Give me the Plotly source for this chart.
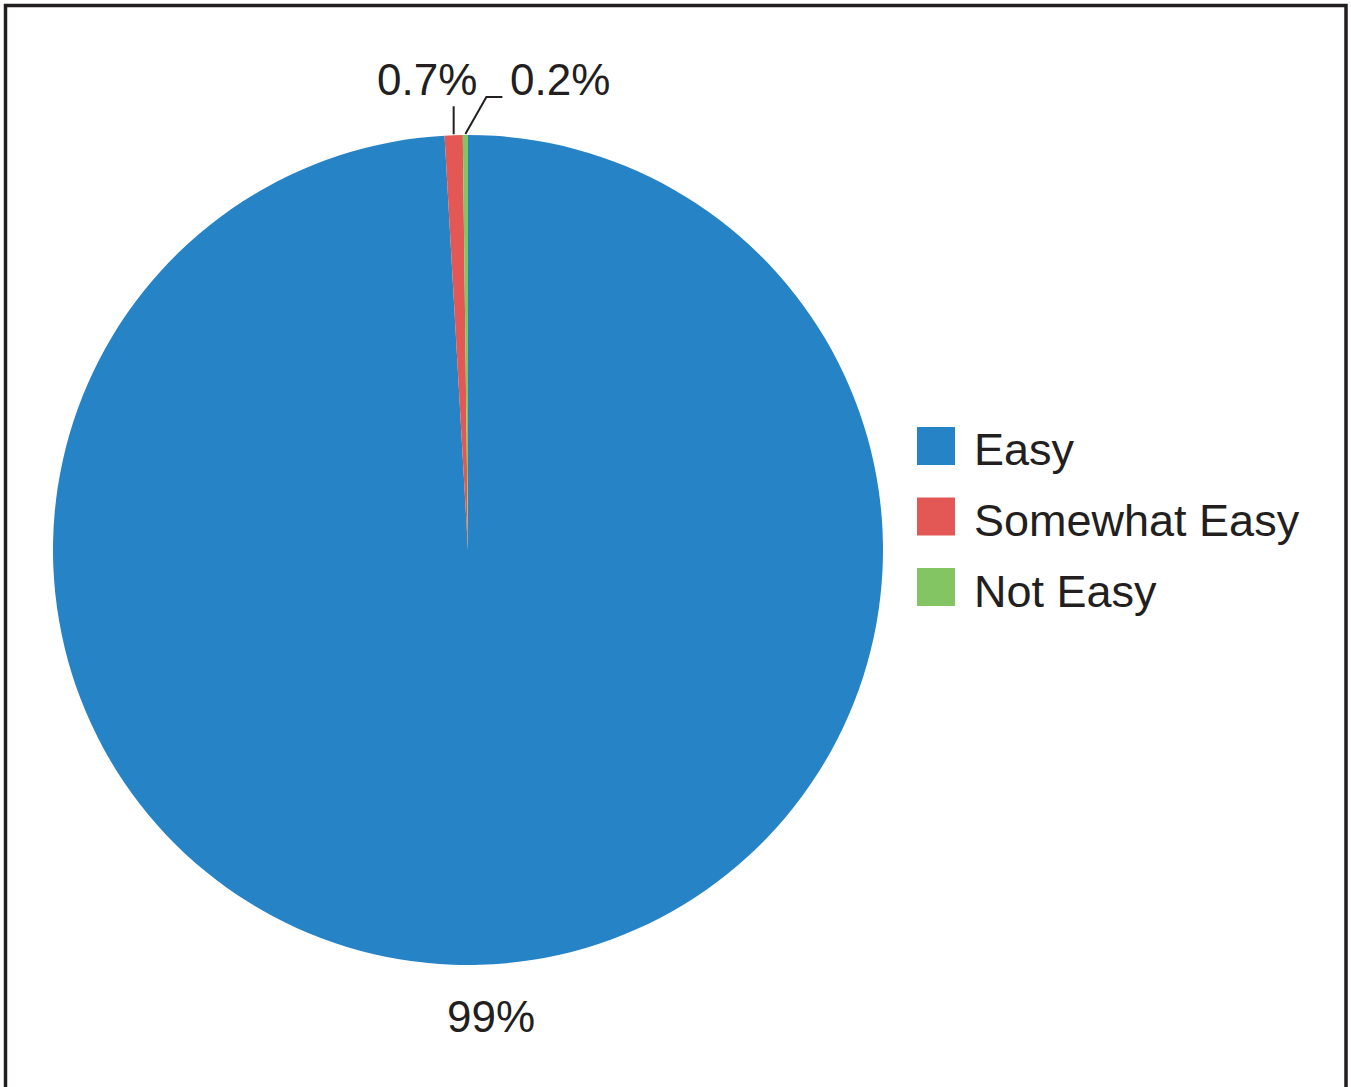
import math
import plotly.graph_objects as go

# Survey responses
categories = ["Easy", "Somewhat Easy", "Not Easy"]
values = [99.1, 0.7, 0.2]
value_labels = ["99%", "0.7%", "0.2%"]
colors = ["#2683C6", "#E35855", "#83C563"]

W, H = 1351, 1087
CX, CY, R = 468, 550, 415          # pie centre and radius in pixels
FONT = "Liberation Sans, Arial, Helvetica, sans-serif"
INK = "#231F20"


def px(x):
    return x / W


def py(y):
    return 1 - y / H


fig = go.Figure(
    go.Pie(
        labels=categories,
        values=values,
        marker=dict(colors=colors, line=dict(width=0)),
        sort=False,
        direction="clockwise",
        rotation=0,
        textinfo="none",
        hoverinfo="label+percent",
        showlegend=False,
        domain=dict(x=[px(CX - R), px(CX + R)], y=[py(CY + R), py(CY - R)]),
    )
)

# slice mid-angles (clockwise from 12 o'clock)
total = sum(values)
mids = []
acc = 0.0
for v in values:
    mids.append((acc + v / 2) / total * 2 * math.pi)
    acc += v


def edge(a, r=R):
    return CX + r * math.sin(a), CY - r * math.cos(a)


shapes = []
annotations = []
lab_font = dict(family=FONT, size=44, color=INK)
leg_font = dict(family=FONT, size=45, color=INK)

# large slice label, below the pie
bx, by = edge(mids[0], R + 52)
annotations.append(dict(x=px(bx + 10), y=py(by), xref="paper", yref="paper",
                        text=value_labels[0], showarrow=False, font=lab_font,
                        xanchor="center", yanchor="middle"))

# small slice labels with leader lines
ex, ey = edge(mids[1])
shapes.append(dict(type="line", xref="paper", yref="paper",
                   x0=px(ex), y0=py(ey - 1), x1=px(ex), y1=py(ey - 29),
                   line=dict(color=INK, width=2)))
annotations.append(dict(x=px(ex + 25), y=py(ey - 56), xref="paper", yref="paper",
                        text=value_labels[1], showarrow=False, font=lab_font,
                        xanchor="right", yanchor="middle"))

gx, gy = edge(mids[2])
shapes.append(dict(type="path", xref="paper", yref="paper",
                   path=f"M {px(gx)} {py(gy - 1)} L {px(gx + 21)} {py(gy - 38)} "
                        f"L {px(gx + 37)} {py(gy - 38)}",
                   line=dict(color=INK, width=2)))
annotations.append(dict(x=px(gx + 43), y=py(ey - 56), xref="paper", yref="paper",
                        text=value_labels[2], showarrow=False, font=lab_font,
                        xanchor="left", yanchor="middle"))

# legend
LX, LY0, STEP, SQ = 917, 427, 70.5, 38
for i, (name, c) in enumerate(zip(categories, colors)):
    top = LY0 + i * STEP
    shapes.append(dict(type="rect", xref="paper", yref="paper",
                       x0=px(LX), x1=px(LX + SQ), y0=py(top + SQ), y1=py(top),
                       fillcolor=c, line=dict(width=0)))
    annotations.append(dict(x=px(972), y=py(top + SQ / 2 + 4), xref="paper", yref="paper",
                            text=name, showarrow=False, font=leg_font,
                            xanchor="left", yanchor="middle"))

# outer frame (open at the bottom)
shapes.append(dict(type="path", xref="paper", yref="paper",
                   path=f"M {px(5.5)} {py(H + 5)} L {px(5.5)} {py(5.5)} "
                        f"L {px(1346)} {py(5.5)} L {px(1346)} {py(H + 5)}",
                   line=dict(color=INK, width=3.5)))

fig.update_layout(
    width=W, height=H,
    margin=dict(l=0, r=0, t=0, b=0),
    paper_bgcolor="white",
    plot_bgcolor="white",
    shapes=shapes,
    annotations=annotations,
)

fig.write_html("out.html")
